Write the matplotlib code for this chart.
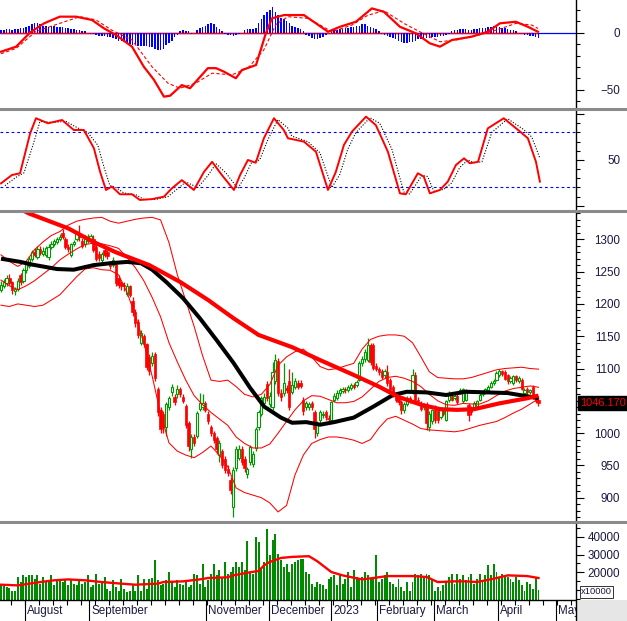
import numpy as np
import matplotlib
matplotlib.use("Agg")
import matplotlib.pyplot as plt
import matplotlib.transforms as mtransforms
from matplotlib.lines import Line2D
from matplotlib.patches import Rectangle

plt.rcParams['font.family'] = ['Liberation Sans', 'DejaVu Sans']

# ---------------- daily candles ----------------
opens = [1222,1228,1232,1240,1234,1220,1223,1244,1236,1252,
         1258,1270,1281,1273,1285,1278,1276,1272,1288,1292,
         1296,1300,1310,1300,1288,1275,1292,1300,1309,1298,
         1292,1298,1300,1300,1288,1278,1268,1283,1280,1264,
         1261,1262,1240,1232,1230,1216,1227,1204,1188,1172,
         1140,1150,1138,1118,1108,1122,1068,1036,1030,1010,
         1040,1063,1056,1060,1068,1056,1042,1015,975,994,
         996,1038,1040,1046,1030,1010,1000,992,966,972,
         960,945,927,886,946,962,976,960,936,955,
         952,977,1010,1030,1046,1076,1045,1040,1080,1112,
         1062,1062,1070,1080,1064,1071,1078,1078,1052,1040,
         1040,1046,1032,1000,1020,1028,1032,1024,1020,1052,
         1055,1062,1065,1068,1067,1070,1074,1074,1082,1108,
         1115,1113,1136,1136,1104,1100,1096,1090,1095,1082,
         1072,1060,1056,1048,1035,1045,1055,1064,1090,1052,
         1045,1040,1044,1010,1018,1040,1035,1025,1035,1020,
         1052,1058,1055,1058,1063,1050,1052,1044,1040,1040,
         1042,1051,1060,1063,1067,1072,1077,1082,1090,1096,
         1095,1090,1080,1078,1088,1080,1082,1062,1068,1064,
         1071,1058,1052]
closes = [1230,1234,1240,1232,1222,1223,1236,1234,1252,1262,
          1270,1280,1276,1285,1279,1282,1286,1288,1293,1297,
          1300,1304,1303,1288,1285,1292,1296,1309,1303,1290,
          1302,1304,1305,1284,1270,1271,1277,1276,1274,1258,
          1268,1232,1230,1228,1227,1228,1214,1188,1170,1152,
          1155,1138,1102,1096,1120,1086,1032,1006,1010,1045,
          1055,1071,1048,1068,1060,1050,1012,980,994,985,
          1031,1046,1046,1036,1018,1000,990,975,985,950,
          943,939,912,943,975,976,956,946,944,978,
          968,1007,1033,1054,1056,1055,1058,1094,1113,1062,
          1056,1078,1066,1041,1074,1080,1072,1073,1034,1047,
          1045,1040,1006,1015,1033,1030,1025,1022,1048,1058,
          1062,1066,1069,1066,1071,1074,1072,1079,1108,1115,
          1126,1136,1110,1101,1100,1094,1087,1096,1077,1067,
          1060,1052,1048,1035,1045,1055,1051,1090,1052,1050,
          1038,1042,1016,1030,1035,1020,1020,1038,1030,1050,
          1062,1052,1058,1048,1067,1068,1066,1028,1032,1047,
          1049,1059,1064,1068,1071,1077,1080,1093,1096,1092,
          1084,1080,1085,1088,1082,1085,1069,1066,1063,1066,
          1056,1050,1046.17]
highs = [1236,1238,1244,1246,1236,1226,1240,1248,1256,1266,
         1274,1284,1286,1290,1290,1288,1290,1292,1297,1300,
         1304,1308,1316,1304,1293,1295,1299,1313,1322,1302,
         1306,1308,1309,1306,1292,1282,1280,1286,1284,1267,
         1272,1265,1244,1236,1234,1232,1230,1210,1192,1176,
         1160,1153,1140,1122,1126,1126,1072,1040,1034,1048,
         1058,1076,1060,1075,1072,1060,1045,1018,998,998,
         1034,1062,1060,1049,1034,1013,1004,995,990,976,
         964,950,932,948,980,982,980,964,948,982,
         972,1010,1036,1058,1062,1080,1064,1110,1122,1116,
         1068,1108,1074,1100,1095,1085,1082,1082,1056,1050,
         1048,1050,1036,1018,1036,1034,1036,1028,1050,1062,
         1066,1070,1072,1071,1074,1077,1077,1082,1112,1120,
         1130,1148,1140,1140,1108,1103,1100,1100,1106,1086,
         1075,1064,1060,1051,1048,1058,1058,1100,1094,1056,
         1050,1046,1048,1034,1038,1044,1038,1040,1038,1052,
         1065,1062,1061,1061,1070,1070,1068,1046,1042,1050,
         1052,1062,1066,1070,1074,1080,1084,1096,1100,1098,
         1098,1092,1088,1090,1090,1088,1085,1070,1071,1068,
         1074,1061,1056]
lows = [1218,1224,1228,1230,1216,1214,1220,1230,1233,1248,
        1255,1266,1272,1270,1276,1274,1272,1268,1285,1289,
        1293,1297,1300,1285,1280,1272,1289,1298,1298,1286,
        1288,1294,1296,1280,1266,1266,1265,1272,1270,1254,
        1257,1228,1224,1222,1220,1212,1210,1182,1165,1148,
        1136,1134,1098,1090,1104,1080,1026,1000,1000,995,
        1036,1058,1044,1055,1056,1046,1008,972,962,980,
        992,1034,1036,1032,1014,996,984,968,955,946,
        938,934,905,870,942,958,950,940,930,950,
        948,972,1005,1026,1042,1050,1040,1036,1076,1058,
        1050,1058,1062,1036,1060,1068,1068,1070,1028,1036,
        1036,1036,993,996,1016,1024,1020,1018,1016,1048,
        1052,1058,1062,1062,1064,1067,1068,1071,1080,1104,
        1110,1110,1106,1098,1096,1090,1083,1086,1073,1063,
        1056,1048,1044,1030,1031,1042,1047,1060,1048,1046,
        1034,1036,1005,1004,1014,1016,1016,1022,1026,1018,
        1048,1049,1052,1045,1060,1047,1049,1018,1028,1037,
        1040,1049,1057,1061,1065,1070,1074,1080,1087,1088,
        1082,1076,1077,1075,1079,1077,1066,1059,1060,1061,
        1053,1046,1042]

# volume, thousands
vol_k = [12.5,12.5,11.5,10.8,9.6, 9.6,17.3,14.4,18.2,17.3,
         18.6,18.2,16.3,18.2,13.5, 17.3,14.4,15.3,18.2,12.5,
         15.3,16.3,14.4,16.3,12.5, 15.3,13.5,12.5,15.3,13.5,
         14.4,18.2,11.5,12.5,19.2, 13.5,14.4,17.3,10.6,9.6,
         15.3,11.5,9.6,16.3,10.6, 8.7,9.6,12.5,9.6,18.2,
         9.6,16.3,10.6,16.3,16.7, 26.8,15.3,12.5,13.5,15.3,
         20.1,14.4,11.5,15.3,13.5, 12.5,15.3,11.5,12.5,19.2,
         18.2,13.5,24.5,11.5,15.3, 19.2,24.9,18.2,21.1,17.3,
         25.8,19.2,20.1,23.0,25.8, 23.0,25.8,21.1,37.5,20.1,
         19.2,40.1,37.3,22.0,25.8, 44.5,29.6,38.5,41.5,30.5,
         26.8,23.0,24.9,20.1,24.9, 25.8,26.8,27.7,27.7,20.1,
         19.2,13.5,11.5,14.4,13.5, 12.5,10.6,16.3,17.3,18.2,
         12.5,19.2,13.5,16.3,20.1, 11.5,21.1,17.3,16.3,17.3,
         20.1,18.2,16.3,17.3,29.5, 14.4,16.3,18.2,20.1,14.4,
         13.5,11.5,16.3,11.5,9.6, 14.4,9.6,14.4,19.2,18.2,
         19.2,17.3,19.2,18.2,15.3, 9.6,11.5,9.6,12.5,14.4,
         17.3,19.2,13.5,19.2,16.3, 18.2,15.3,17.3,19.2,13.5,
         16.3,19.2,15.3,18.2,23.9, 18.2,24.9,20.1,17.3,19.2,
         18.2,17.3,16.3,14.4,17.3, 15.3,12.5,9.6,14.4,13.5,
         10.6,16.5,10.0]
vma_x = [0, 6, 14, 19, 24, 30, 36, 43, 48, 56, 58, 65, 71, 74, 81, 83, 88, 92, 94,
         96, 100, 104, 110, 113, 118, 122, 129, 133, 138, 147, 152, 156, 162, 166,
         170, 176, 181, 188, 192]
vma_k = [12.9, 12.5, 14.4, 15.4, 15.9, 15.4, 14.4, 13.5, 12.9, 13.5, 14.4, 14.8,
         15.9, 16.7, 17.1, 18.2, 19.7, 20.7, 23.9, 25.8, 28.1, 28.7, 29.1, 26.2,
         20.1, 18.2, 15.9, 16.7, 17.8, 17.8, 17.3, 14.4, 14.8, 14.8, 14.4, 16.3,
         18.2, 17.8, 16.7]

# ---------------- overlays on price ----------------
ma_long_x = [0, 10, 24, 33, 41, 53, 64, 74, 83, 92, 104, 114, 126, 135, 142, 150,
             157, 163, 169, 178, 188, 192]
ma_long = [1362, 1340, 1317, 1296, 1280, 1260, 1234, 1206, 1178, 1152, 1133, 1113,
           1090, 1072, 1056, 1044, 1037, 1036, 1037, 1046, 1054, 1058]
ma_mid_x = [0, 7, 11, 20, 26, 33, 39, 45, 50, 54, 59, 65, 71, 77, 83, 89, 94, 100,
            104, 109, 114, 119, 126, 133, 140, 145, 152, 159, 166, 174, 181, 188, 192]
ma_mid = [1270, 1265, 1261, 1254, 1253, 1260, 1263, 1265, 1263, 1253, 1234, 1209,
          1178, 1144, 1109, 1070, 1041, 1024, 1016, 1017, 1013, 1017, 1024, 1041,
          1059, 1064, 1063, 1059, 1064, 1063, 1062, 1057, 1054]

bb_x = [0, 3, 6, 9, 12, 15, 18, 21, 24, 27, 30, 33, 36, 39, 42, 45, 48, 51, 54, 57,
        60, 63, 66, 69, 72, 75, 78, 81, 84, 87, 90, 93, 96, 99, 102, 105, 108, 111,
        114, 117, 120, 123, 126, 129, 132, 135, 138, 141, 144, 147, 150, 153, 156,
        159, 162, 165, 168, 171, 174, 177, 180, 183, 186, 189, 192]
bb_up = [1276, 1266, 1258, 1266, 1284, 1296, 1306, 1312, 1322, 1328, 1331, 1333,
         1334, 1328, 1325, 1328, 1331, 1333, 1334, 1330, 1295, 1245, 1205, 1165,
         1120, 1082, 1080, 1082, 1072, 1060, 1056, 1060, 1075, 1105, 1118, 1126,
         1130, 1118, 1103, 1098, 1100, 1104, 1108, 1130, 1145, 1150, 1152, 1152,
         1150, 1140, 1118, 1095, 1086, 1085, 1084, 1084, 1086, 1090, 1094, 1098,
         1100, 1101, 1102, 1100, 1099]
bb_md = [1237, 1228, 1222, 1228, 1236, 1246, 1256, 1268, 1277, 1285, 1292, 1294,
         1293, 1290, 1286, 1272, 1256, 1236, 1210, 1180, 1140, 1110, 1082, 1058,
         1044, 1032, 1022, 1012, 994, 984, 977, 977, 983, 1000, 1018, 1036, 1050,
         1058, 1057, 1052, 1047, 1047, 1049, 1056, 1068, 1080, 1086, 1088, 1085,
         1080, 1072, 1060, 1050, 1044, 1043, 1046, 1045, 1045, 1050, 1058, 1065,
         1069, 1071, 1073, 1071]
bb_lo = [1198, 1196, 1200, 1198, 1196, 1198, 1206, 1214, 1228, 1242, 1254, 1256,
         1253, 1252, 1245, 1218, 1182, 1140, 1088, 1030, 985, 972, 966, 962, 970,
         980, 966, 948, 915, 908, 904, 900, 892, 878, 888, 935, 966, 984, 990, 994,
         994, 992, 989, 984, 990, 1008, 1022, 1026, 1020, 1014, 1007, 1005, 1004,
         1003, 1002, 1004, 1008, 1012, 1015, 1018, 1024, 1031, 1037, 1045, 1053]

# ---------------- MACD ----------------
macd_x = [0, 5.4, 10.4, 15.4, 21, 26.8, 32.5, 36.8, 41.1, 46.8, 51, 54.6, 58.2, 60.4,
          64.6, 67.5, 73.9, 76.8, 79.6, 83.9, 86.1, 91.1, 94.6, 96.8, 101.1, 108.2,
          112.5, 116.8, 121.1, 126.8, 132.5, 136.8, 142.5, 148.2, 153.2, 156.8,
          161.1, 168.2, 173.9, 178.2, 183.9, 188.2, 191.8]
macd = [-16.7, -12.3, 0, 8, 13.8, 13.8, 10.9, 3.6, -2.2, -12.3, -29.7, -41, -55.8,
        -55, -45.7, -48.5, -31, -31, -34, -39.8, -32.6, -28.3, -0.7, 12.3, 15.2,
        15.2, 8, 0.7, 5, 9.4, 21, 18, 5, -0.7, -9.4, -12.3, -6.5, -3.6, 0.7, 8,
        9.4, 5, 0.7]
sig_x = [0, 5.4, 12.5, 21, 28.2, 33.9, 39.6, 46.8, 53.9, 59.6, 63.9, 69.6, 75.4,
         82.5, 88.2, 93.9, 98.2, 102.5, 109.6, 114, 118.2, 125.4, 131, 136.8, 143.9,
         149.6, 156.8, 162.5, 171, 176.8, 184, 189.6, 191.8]
signal = [-18.5, -13.8, 1, 8, 13.8, 11, 2, -6.5, -29.7, -44, -48.5, -44, -35.4,
          -36.8, -31, -15, 7, 13.8, 12.3, 6.5, 0.7, 6.5, 15, 19, 8, 0.7, -8, -6.5,
          -2, 2, 8, 6.5, 3.6]
hist = [2,2,3,3,2,3,3,4,4,5,6, 7,8,8,7, 6,6,5,6,6,5,5, 5,4,4,3,3,2, 2,1,1,
        0,-1,-1,-2, -3,-3,-3,-4,-4,-5,-6, -7,-7,-8,-9,-10,-11,
        -11,-12,-12,-12,-12,-13,-13, -14,-15,-15,-14, -11,-9,-7, -4,-2,1, 2,1,
        1,-1,0,2, 4,5,6,7,8,7,5,3, 1,-1,-2,-2,-3,-2,-1,0, 2,3,3,3,4,
        8,12,15,18,20,22,18,15,13, 12,10,8,6, 5,4,3,1, -2,-3,-5,-6,-6,-5,
        -4,-2,0,1, 2,2,3,3,4, 4,5,5,6,6, 7,7,6,5,4, 3,1,
        -1,-2,-3,-4,-5,-6,-7,-8, -9,-9,-8,-8,-7, -6,-6,-5,
        -5,-5,-4,-4,-4,-3,-3,-2,-1, 1,2,2,3,3,3,2,2,3,3,4,
        4,4,5,5,6,5,5,4,4,3, 2,2,1,0, -1,-2,-2,-3,-3,-4,-5]

# ---------------- Stochastic ----------------
k_x = [0, 3.9, 6.8, 10.4, 12.5, 16.8, 21.8, 26, 29.6, 33.2, 35.4, 37.5, 39.6, 42.5,
       46.8, 49.6, 53.9, 58.2, 61, 64.6, 68.9, 72.5, 75.4, 78.9, 83.2, 85.4, 88.2,
       91, 93.9, 97.5, 101, 102.5, 108.2, 112.5, 116.8, 119.6, 122.5, 125.4, 130.4,
       133.9, 138.2, 142.5, 144.6, 148.9, 151, 153.2, 156.8, 159.6, 162.5, 165.4,
       167.5, 170.4, 173.9, 179.6, 185.4, 188.2, 191.1, 192.5]
stoch_k = [24.5, 33.6, 35.5, 79, 95.5, 90, 93.6, 82.7, 82.7, 62.7, 37, 17.3, 21,
           12.6, 12.6, 6.4, 7.3, 10, 19, 28, 17.3, 37, 48, 33.6, 17.3, 33.6, 50, 47,
           73.7, 95.5, 82.7, 73.7, 70, 59, 17.3, 37, 66.4, 81, 97.3, 88, 59, 13.6,
           12.6, 35.5, 32, 13.6, 17.3, 26.4, 44.5, 51.8, 46.4, 48, 84.5, 95.5, 81,
           73.7, 48, 26.4]
d_x = [1.4, 5.3, 8.2, 11.8, 13.9, 18.2, 23.2, 27.4, 31, 34.6, 36.8, 38.9, 41, 43.9,
       48.2, 51, 55.3, 59.6, 62.4, 66, 70.3, 73.9, 76.8, 80.3, 84.6, 86.8, 89.6,
       92.4, 95.3, 98.9, 102.4, 103.9, 109.6, 113.9, 118.2, 121, 123.9, 126.8,
       131.8, 135.3, 139.6, 143.9, 146, 150.3, 152.4, 154.6, 158.2, 161, 163.9,
       166.8, 168.9, 171.8, 175.3, 181, 186.8, 189.6, 192.5]
stoch_d = [22, 31, 36, 70, 92, 91, 92, 85, 80, 66, 42, 22, 20, 14, 12, 7, 7, 10, 17,
           26, 20, 33, 46, 36, 19, 30, 48, 50, 72, 94, 85, 76, 70, 58, 20, 34, 62,
           80, 96, 90, 62, 15, 13, 33, 32, 16, 18, 25, 42, 50, 47, 48, 80, 95, 83,
           75, 52]

# ---------------- date axis ----------------
month_pos = [8.5, 31.4, 73.2, 95.7, 117.9, 134.2, 154.6, 177.5, 198.2]
month_lbl = ['August', 'September', 'November', 'December', '2023',
             'February', 'March', 'April', 'May']

RED = '#ff0000'
GREEN = '#009a00'
VGREEN = '#008a00'
BLUE = '#0000ff'
LBL = '#1a1a40'
W, H = 627, 621
XR = 576

fig = plt.figure(figsize=(W / 100, H / 100), dpi=100)
fig.patch.set_facecolor('white')


def panel(top, bottom):
    ax = fig.add_axes([0, 1 - bottom / H, XR / W, (bottom - top) / H])
    for s in ('left', 'top', 'bottom'):
        ax.spines[s].set_visible(False)
    ax.spines['right'].set_linewidth(1)
    ax.set_xlim(-0.36, 205.4)
    ax.yaxis.tick_right()
    ax.tick_params(axis='x', which='both', bottom=False, labelbottom=False)
    ax.tick_params(axis='y', which='major', length=5.8, width=0.8, pad=25.9,
                   labelsize=8.4, labelcolor=LBL)
    ax.tick_params(axis='y', which='minor', length=2.9, width=0.8)
    return ax


def right_labels(ax):
    for t in ax.get_yticklabels():
        t.set_horizontalalignment('right')


# MACD
ax1 = panel(0, 107)
ax1.set_ylim(-64.8, 28.3)
ax1.axhline(0, color=BLUE, lw=0.9, zorder=1)
ax1.hlines(0, -0.36, len(hist) - 1, color=RED, lw=1.0, zorder=2)
ax1.bar(np.arange(len(hist)), hist, width=0.55, color=BLUE, lw=0, zorder=3)
ax1.plot(sig_x, signal, color=RED, lw=0.8, dashes=(3, 2), zorder=4)
ax1.plot(macd_x, macd, color=RED, lw=1.6, zorder=5)
ax1.set_yticks([-50, 0])
ax1.set_yticks([20, 10, -10, -20, -30, -40, -60], minor=True)
right_labels(ax1)

# Stochastic
ax2 = panel(110, 209.5)
ax2.set_ylim(-4.0, 104.5)
for lev in (80, 20):
    ax2.axhline(lev, color=BLUE, lw=0.8, dashes=(2.5, 2.5), zorder=1)
ax2.plot(d_x, stoch_d, color='black', lw=0.8, dashes=(1, 1.5), zorder=3)
ax2.plot(k_x, stoch_k, color=RED, lw=1.4, zorder=4)
ax2.set_yticks([0, 50, 100])
ax2.set_yticklabels(['', '50', ''])
ax2.set_yticks(range(10, 100, 10), minor=True)
right_labels(ax2)

# Price
ax3 = panel(212, 520.5)
ax3.set_ylim(864.7, 1342.3)
o = np.array(opens, float)
c = np.array(closes, float)
hi = np.array(highs, float)
lo = np.array(lows, float)
ix = np.arange(len(c))
up = c >= o
ax3.vlines(ix, lo, hi, colors=np.where(up, GREEN, RED), lw=0.9, zorder=2)
ax3.bar(ix[~up], (o - c)[~up], bottom=c[~up], width=0.8, color=RED,
        edgecolor=RED, lw=0.5, zorder=3)
ax3.bar(ix[up], np.maximum((c - o)[up], 0.8), bottom=o[up], width=0.8,
        facecolor='white', edgecolor=GREEN, lw=0.8, zorder=3)
for band in (bb_up, bb_md, bb_lo):
    ax3.plot(bb_x, band, color=RED, lw=0.75, zorder=4)
ax3.plot(ma_mid_x, ma_mid, color='black', lw=2.9, zorder=5,
         solid_capstyle='butt')
ax3.plot(ma_long_x, ma_long, color=RED, lw=3.0, zorder=6, solid_capstyle='butt')
px_ticks = list(range(900, 1301, 50))
ax3.set_yticks(px_ticks)
# the 1050 label sits under the last-price box
ax3.set_yticklabels(['' if t == 1050 else str(t) for t in px_ticks])
ax3.set_yticks(range(870, 1341, 10), minor=True)
right_labels(ax3)
ax3.text(580 / W, c[-1], f'{c[-1]:.3f}',
         transform=mtransforms.blended_transform_factory(fig.transFigure, ax3.transData),
         ha='left', va='center', color=RED, fontsize=7.9, zorder=10,
         bbox=dict(boxstyle='square,pad=0.18', fc='black', ec='black'))

# Volume
ax4 = panel(523.5, 600)
ax4.set_ylim(4205, 47670)
vol = np.array(vol_k) * 1000
ax4.bar(np.arange(len(vol)), vol, width=0.7, color=VGREEN, lw=0, zorder=2)
ax4.plot(vma_x, np.array(vma_k) * 1000, color=RED, lw=1.7, zorder=3)
ax4.set_yticks([10000, 20000, 30000, 40000])
# the 10000 label sits under the x10000 unit box
ax4.set_yticklabels(['', '20000', '30000', '40000'])
ax4.set_yticks([5000, 15000, 25000, 35000, 45000], minor=True)
right_labels(ax4)
ax4.spines['bottom'].set_visible(True)
ax4.spines['bottom'].set_linewidth(1)
ax4.set_xticks(month_pos)
ax4.set_xticks(np.arange(3.46, 205, 5.0), minor=True)
ax4.tick_params(axis='x', which='major', bottom=True, length=15.5, width=0.8,
                labelbottom=False)
ax4.tick_params(axis='x', which='minor', bottom=True, length=3.6, width=0.8)
xt = mtransforms.offset_copy(
    mtransforms.blended_transform_factory(ax4.transData, fig.transFigure),
    fig=fig, x=2.5, y=0, units='dots')
for p, lab in zip(month_pos, month_lbl):
    ax4.text(p, 1 - 611 / H, lab, transform=xt, ha='left', va='center',
             fontsize=8.4, color=LBL, clip_on=False)

# frame pieces: separators, bottom-right grey area, unit box
for yy in (108.5, 210.8, 522.0):
    fig.add_artist(Line2D([0, 1], [1 - yy / H, 1 - yy / H], color='#8a8a8a',
                          lw=2.2, transform=fig.transFigure))
fig.add_artist(Rectangle((XR / W + 0.0015, 0), 1, 21 / H, transform=fig.transFigure,
                         facecolor='#e6e6e6', edgecolor='none', zorder=5))
fig.add_artist(Line2D([XR / W, XR / W], [0, 21 / H], color='black', lw=1,
                      transform=fig.transFigure, zorder=6))
fig.text(581 / W, 1 - 592 / H, 'x10000', fontsize=6.8, color=LBL, ha='left',
         va='center', zorder=7,
         bbox=dict(boxstyle='square,pad=0.15', fc='white', ec='#333333', lw=0.7))

fig.savefig('out.png', dpi=100, facecolor='white')
